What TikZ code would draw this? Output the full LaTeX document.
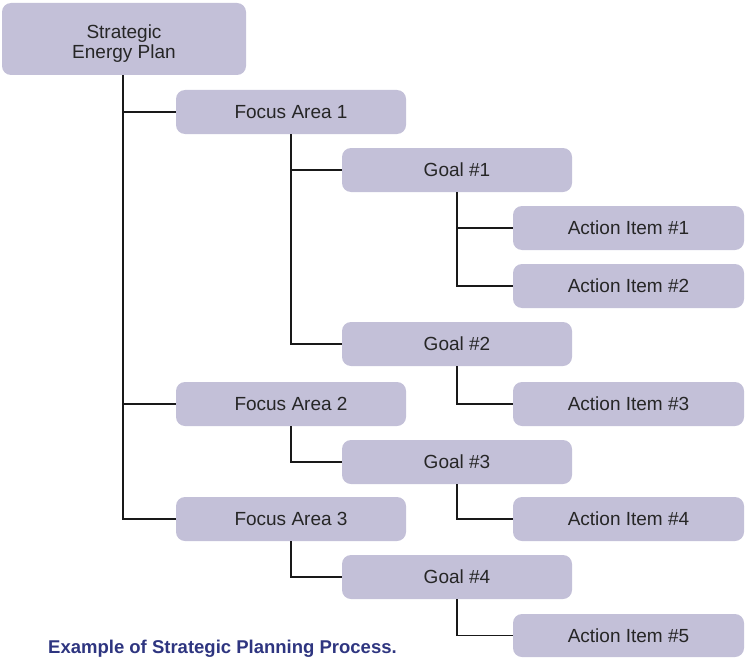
\documentclass[tikz,border=0pt]{standalone}
\usepackage{fontspec}
\setmainfont{Liberation Sans}
\usetikzlibrary{positioning,calc}

\definecolor{boxfill}{HTML}{C3C0D8}
\definecolor{capblue}{HTML}{2E3580}

\begin{document}
\begin{tikzpicture}[x=1pt,y=-1pt,
	box/.style={fill=boxfill, rounded corners=9pt, minimum width=230pt, minimum height=44pt, inner sep=0pt, text=black!85, font=\fontsize{19}{21}\selectfont},
	link/.style={draw=black!90, line width=1.6pt}]
			\useasboundingbox (0,0) rectangle (746,658);
			
			% Plan
			\node[box, minimum width=244pt, minimum height=72pt, align=center] (plan) at (124,39) {\raisebox{-4.5pt}[\dimexpr\height+4.5pt\relax][\dimexpr\depth+4.5pt\relax]{\shortstack{Strategic\\[0pt]Energy Plan}}};
			
			% Focus areas
			\node[box] (fa1) at (291,112) {Focus Area 1};
			\node[box] (fa2) at (291,404) {Focus Area 2};
			\node[box] (fa3) at (291,519) {Focus Area 3};
			
			% Goals
			\node[box] (g1) at (457,170) {Goal \#1};
			\node[box] (g2) at (457,344) {Goal \#2};
			\node[box] (g3) at (457,462) {Goal \#3};
			\node[box] (g4) at (457,577) {Goal \#4};
			
			% Action items
			\node[box, minimum width=231pt] (a1) at (628.5,228) {Action Item \#1};
			\node[box, minimum width=231pt] (a2) at (628.5,286) {Action Item \#2};
			\node[box, minimum width=231pt] (a3) at (628.5,404) {Action Item \#3};
			\node[box, minimum width=231pt] (a4) at (628.5,519) {Action Item \#4};
			\node[box, minimum width=231pt, minimum height=43pt] (a5) at (628.5,635.5) {Action Item \#5};
			
			% Links
			\draw[link] (plan.south -| 123,0) |- (fa1.west);
			\draw[link] (plan.south -| 123,0) |- (fa2.west);
			\draw[link] (plan.south -| 123,0) |- (fa3.west);
			\draw[link] (fa1.south) |- (g1.west);
			\draw[link] (fa1.south) |- (g2.west);
			\draw[link] (fa2.south) |- (g3.west);
			\draw[link] (fa3.south) |- (g4.west);
			\draw[link] (g1.south) |- (a1.west);
			\draw[link] (g1.south) |- (a2.west);
			\draw[link] (g2.south) |- (a3.west);
			\draw[link] (g3.south) |- (a4.west);
			\draw[link] (g4.south) |- (a5.west);
			
			% Caption
			\node[anchor=base west, inner sep=0pt, text=capblue, font=\fontsize{18.5}{21}\selectfont\bfseries] (caption) at (48,653) {Example of Strategic Planning Process.};
		\end{tikzpicture}
\end{document}
